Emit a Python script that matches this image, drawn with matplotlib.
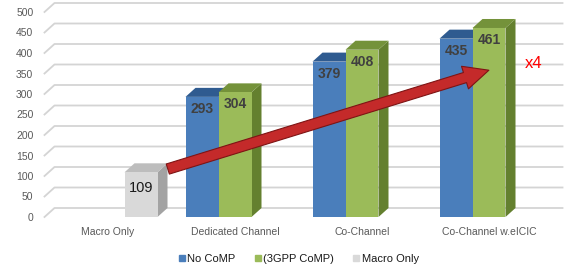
import matplotlib
matplotlib.use("Agg")
import matplotlib.pyplot as plt
from matplotlib.patches import Polygon
from matplotlib.lines import Line2D

plt.rcParams['font.family'] = ['Liberation Sans', 'DejaVu Sans']

# data
categories = ["Macro Only", "Dedicated Channel", "Co-Channel", "Co-Channel w.eICIC"]
series_names = ["No CoMP", "(3GPP CoMP)", "Macro Only"]
no_comp = [None, 293, 379, 435]
gpp_comp = [None, 304, 408, 461]
macro_only = [109, None, None, None]
yticks = [0, 50, 100, 150, 200, 250, 300, 350, 400, 450, 500]

# colours: front, top, side
faces = [("#4a7ebb", "#2f5b90", "#2a4f7c"),
         ("#9bbb59", "#74923a", "#64802f"),
         ("#d9d9d9", "#bdbdbd", "#a3a3a3")]

fig = plt.figure(figsize=(5.76, 2.71), dpi=100)
# front plane: x 44.5..552.5 px, y 0 at 217 px, 500 at 12 px
ax = fig.add_axes([44.5 / 576, 54 / 271, 508 / 576, 205 / 271])
ax.set_xlim(-0.5, 3.5)
ax.set_ylim(0, 500)
for s in ax.spines.values():
    s.set_visible(False)

dx = 10 / 127.0   # depth in category units
dy = 9 / 0.41     # depth in value units
w = 33 / 127.0

# back wall gridlines
for t in yticks:
    ax.plot([-0.5, -0.5 + dx, 3.5 + dx], [t, t + dy, t + dy],
            color="#d4d4d4", lw=1.3, clip_on=False, zorder=1)

def bar3d(x0, v, cols, z):
    front, top, side = cols
    ax.add_patch(Polygon([(x0 + w, 0), (x0 + w + dx, dy), (x0 + w + dx, v + dy), (x0 + w, v)],
                         closed=True, fc=side, ec="none", clip_on=False, zorder=z))
    ax.add_patch(Polygon([(x0, v), (x0 + w, v), (x0 + w + dx, v + dy), (x0 + dx, v + dy)],
                         closed=True, fc=top, ec="none", clip_on=False, zorder=z))
    ax.add_patch(Polygon([(x0, 0), (x0 + w, 0), (x0 + w, v), (x0, v)],
                         closed=True, fc=front, ec="none", clip_on=False, zorder=z + 0.5))

all_series = [no_comp, gpp_comp, macro_only]
for i in range(len(categories)):
    for j, ser in enumerate(all_series):
        v = ser[i]
        if v is None:
            continue
        x0 = i - 1.5 * w + j * w
        bar3d(x0, v, faces[j], 2 + j)
        if j == 2:
            ax.text(x0 + w / 2, v - 38, str(v), ha="center", va="center",
                    fontsize=10.5, color="#1a1a1a", zorder=10)
        else:
            ax.text(x0 + w / 2, v - 29, str(v), ha="center", va="center",
                    fontsize=10, fontweight="bold", color="#404040", zorder=10)

# arrow
ax.annotate("", xy=(3.02, 360), xytext=(0.45, 115),
            arrowprops=dict(arrowstyle="simple,head_width=0.85,head_length=0.9,tail_width=0.38",
                            fc="#c42a2a", ec="#7e1414", lw=0.8, mutation_scale=20),
            zorder=20, annotation_clip=False)
ax.text(3.35, 375, "x4", color="#ff0000", fontsize=12, ha="center", va="center", zorder=20)

ax.set_yticks(yticks)
ax.set_yticklabels([str(t) for t in yticks], fontsize=7.5, color="#595959")
ax.set_xticks(range(len(categories)))
ax.set_xticklabels(categories, fontsize=7.5, color="#595959")
ax.tick_params(axis="both", length=0)
ax.tick_params(axis="y", pad=8)
ax.tick_params(axis="x", pad=7)

handles = [Line2D([], [], marker="s", ls="none", ms=5, mfc=c[0], mec=c[0]) for c in faces]
fig.legend(handles, series_names, loc="center", bbox_to_anchor=(298 / 576, 1 - 259 / 271),
           ncol=3, frameon=False, fontsize=8, handletextpad=0.1, columnspacing=1.6,
           handlelength=0.8, labelcolor="#1a1a1a")

fig.savefig("out.png", dpi=100)
